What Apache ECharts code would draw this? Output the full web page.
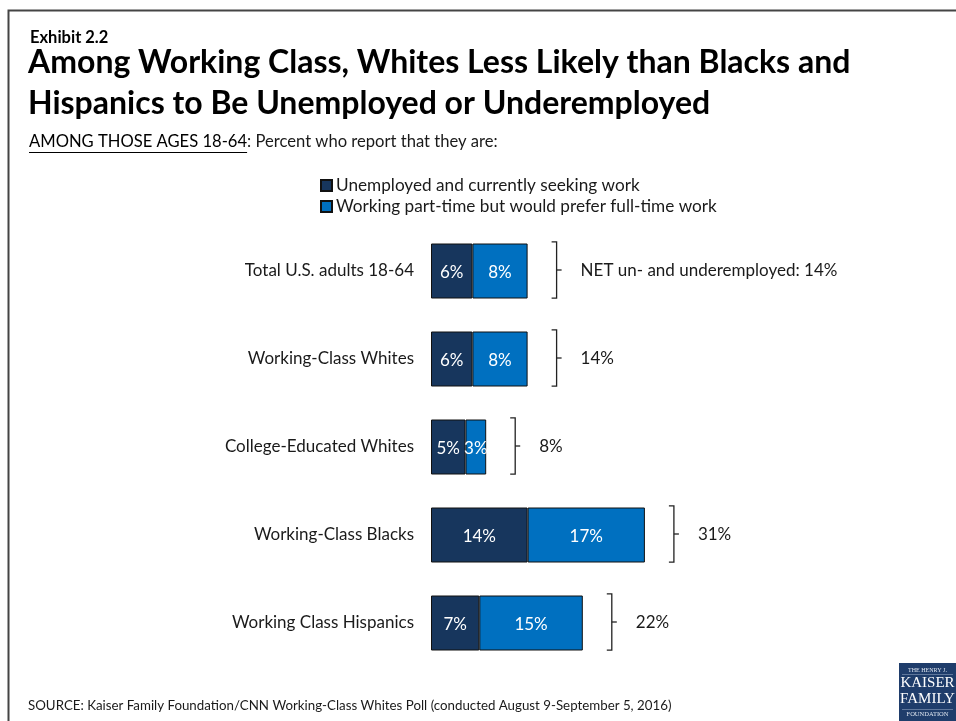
<!DOCTYPE html>
<html>
<head>
<meta charset="utf-8">
<script src="https://cdn.jsdelivr.net/npm/echarts@6/dist/echarts.min.js"></script>
<style>
  html, body { margin: 0; padding: 0; background: #fff; }
  #chart { width: 956px; height: 721px; }
</style>
</head>
<body>
<div id="chart"></div>
<script>
// Groups shown, top to bottom
const categories = [
  'Total U.S. adults 18-64',
  'Working-Class Whites',
  'College-Educated Whites',
  'Working-Class Blacks',
  'Working Class Hispanics'
];
// Percent unemployed and seeking work
const unemployed = [6, 6, 5, 14, 7];
// Percent working part-time but preferring full-time work
const partTime = [8, 8, 3, 17, 15];
// NET un- and underemployed
const netTotals = [14, 14, 8, 31, 22];
const netLabels = ['NET un- and underemployed: 14%', '14%', '8%', '31%', '22%'];

const seriesNames = [
  'Unemployed and currently seeking work',
  'Working part-time but would prefer full-time work'
];

const FONT = 'Lato, "Open Sans", sans-serif';
const DARK = '#17365d';
const LIGHT = '#0070c0';
const TEXT = '#1a1a1a';

const chart = echarts.init(document.getElementById('chart'), null, { renderer: 'canvas' });

// width of the underlined lead-in of the subtitle
function textWidth(str, font) {
  const c = document.createElement('canvas').getContext('2d');
  c.font = font;
  return c.measureText(str).width;
}
const leadIn = 'AMONG THOSE AGES 18-64';
const leadFont = '16.6px ' + FONT;
const leadW = textWidth(leadIn, leadFont);

const barLabel = {
  show: true,
  position: 'inside',
  color: '#ffffff',
  fontFamily: FONT,
  fontSize: 17,
  offset: [0, 2],
  formatter: p => p.value + '%'
};

const option = {
  animation: false,
  backgroundColor: '#ffffff',
  textStyle: { fontFamily: FONT },
  legend: {
    orient: 'vertical',
    left: 315,
    top: 172,
    itemWidth: 11,
    itemHeight: 11,
    itemGap: 4,
    icon: 'rect',
    textStyle: { fontFamily: FONT, fontSize: 17.2, color: TEXT, padding: [0, 0, 0, -1] },
    data: seriesNames
  },
  grid: { left: 431, right: 180, top: 227, bottom: 54, containLabel: false },
  xAxis: {
    type: 'value',
    min: 0,
    max: 50,
    show: false
  },
  yAxis: {
    type: 'category',
    inverse: true,
    data: categories,
    axisLine: { show: false },
    axisTick: { show: false },
    splitLine: { show: false },
    axisLabel: { color: TEXT, fontFamily: FONT, fontSize: 17, margin: 17, padding: [4, 0, 0, 0] }
  },
  series: [
    {
      name: seriesNames[0],
      type: 'bar',
      stack: 'all',
      barWidth: 55,
      data: unemployed,
      itemStyle: { color: DARK, borderColor: '#111', borderWidth: 1 },
      label: barLabel
    },
    {
      name: seriesNames[1],
      type: 'bar',
      stack: 'all',
      barWidth: 55,
      data: partTime,
      itemStyle: { color: LIGHT, borderColor: '#111', borderWidth: 1 },
      label: barLabel
    },
    {
      // curly-bracket style marker with the NET value beside each bar
      type: 'custom',
      data: netTotals.map((v, i) => [v, i]),
      silent: true,
      z: 5,
      renderItem: function (params, api) {
        const i = api.value(1);
        const end = api.coord([api.value(0), i]);
        const half = api.size([0, 1])[1] * 0.32;
        const x = end[0] + 29;
        const y = end[1] - 1;
        const stroke = { stroke: '#222', lineWidth: 1.3, fill: null };
        return {
          type: 'group',
          children: [
            { type: 'polyline', shape: { points: [[x - 5, y - half], [x, y - half], [x, y + half], [x - 5, y + half]] }, style: stroke },
            { type: 'line', shape: { x1: x, y1: y, x2: x + 5, y2: y }, style: stroke },
            {
              type: 'text',
              style: {
                x: x + 24, y: y + 1,
                text: netLabels[i],
                fill: TEXT,
                font: '17px ' + FONT,
                verticalAlign: 'middle',
                align: 'left'
              }
            }
          ]
        };
      }
    }
  ],
  graphic: [
    // frame
    { type: 'polyline', shape: { points: [[8.5, 721], [8.5, 10.5], [956, 10.5]] }, style: { stroke: '#444', lineWidth: 2, fill: null } },
    { type: 'text', left: 30, top: 29, style: { text: 'Exhibit 2.2', font: 'bold 16.5px ' + FONT, fill: '#000' } },
    { type: 'text', left: 28, top: 47, style: { text: 'Among Working Class, Whites Less Likely than Blacks and', font: 'bold 32px ' + FONT, fill: '#000' } },
    { type: 'text', left: 28, top: 88, style: { text: 'Hispanics to Be Unemployed or Underemployed', font: 'bold 32px ' + FONT, fill: '#000' } },
    { type: 'text', left: 29, top: 133, style: { text: leadIn, font: leadFont, fill: '#000' } },
    { type: 'line', shape: { x1: 29, y1: 152.5, x2: 29 + leadW, y2: 152.5 }, style: { stroke: '#000', lineWidth: 1 } },
    { type: 'text', left: 29 + leadW, top: 133, style: { text: ': Percent who report that they are:', font: leadFont, fill: TEXT } },
    { type: 'text', left: 28, top: 699, style: { text: 'SOURCE: Kaiser Family Foundation/CNN Working-Class Whites Poll (conducted August 9-September 5, 2016)', font: '13.3px ' + FONT, fill: TEXT } },
    // foundation mark
    {
      type: 'group', left: 899, top: 663,
      children: [
        { type: 'rect', shape: { x: 0, y: 0, width: 57, height: 58 }, style: { fill: '#1f3d6b' } },
        { type: 'text', x: 28.5, y: 4, style: { text: 'THE HENRY J.', font: '6px "Liberation Serif", serif', fill: '#dfe6f0', align: 'center' } },
        { type: 'rect', shape: { x: 3, y: 11, width: 51, height: 0.6 }, style: { fill: '#9fb2cc' } },
        { type: 'text', x: 28.5, y: 13, style: { text: 'KAISER', font: '15px "Liberation Serif", serif', fill: '#ffffff', align: 'center' } },
        { type: 'text', x: 28.5, y: 29, style: { text: 'FAMILY', font: '15px "Liberation Serif", serif', fill: '#ffffff', align: 'center' } },
        { type: 'rect', shape: { x: 3, y: 46, width: 51, height: 0.6 }, style: { fill: '#9fb2cc' } },
        { type: 'text', x: 28.5, y: 48, style: { text: 'FOUNDATION', font: '6.5px "Liberation Serif", serif', fill: '#dfe6f0', align: 'center' } }
      ]
    }
  ]
};

chart.setOption(option);
</script>
</body>
</html>
